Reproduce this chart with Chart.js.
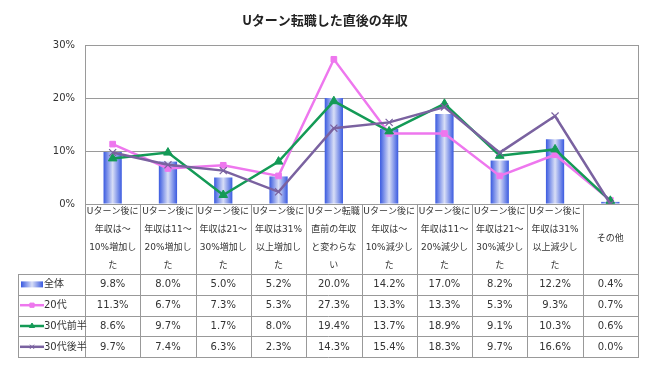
<!DOCTYPE html>
<html>
<head>
<meta charset="utf-8">
<script src="https://cdn.jsdelivr.net/npm/chart.js@4"></script>
<style>
  body { margin: 0; background: #fff; }
  #wrap { width: 650px; height: 365px; }
</style>
</head>
<body>
<div id="wrap"><canvas id="c"></canvas></div>
<script>
// 카테고리 (줄바꿈 단위)
const categories = [
  ['Uターン後に', '年収は～', '10%増加し', 'た'],
  ['Uターン後に', '年収は11～', '20%増加し', 'た'],
  ['Uターン後に', '年収は21～', '30%増加し', 'た'],
  ['Uターン後に', '年収は31%', '以上増加し', 'た'],
  ['Uターン転職', '直前の年収', 'と変わらな', 'い'],
  ['Uターン後に', '年収は～', '10%減少し', 'た'],
  ['Uターン後に', '年収は11～', '20%減少し', 'た'],
  ['Uターン後に', '年収は21～', '30%減少し', 'た'],
  ['Uターン後に', '年収は31%', '以上減少し', 'た'],
  ['その他']
];
const seriesNames = ['全体', '20代', '30代前半', '30代後半'];
const allData = [9.8, 8.0, 5.0, 5.2, 20.0, 14.2, 17.0, 8.2, 12.2, 0.4];
const age20 = [11.3, 6.7, 7.3, 5.3, 27.3, 13.3, 13.3, 5.3, 9.3, 0.7];
const age30early = [8.6, 9.7, 1.7, 8.0, 19.4, 13.7, 18.9, 9.1, 10.3, 0.6];
const age30late = [9.7, 7.4, 6.3, 2.3, 14.3, 15.4, 18.3, 9.7, 16.6, 0.0];
const yTicks = [0, 10, 20, 30];
const title = 'Uターン転職した直後の年収';

const colors = ['#4262e2', '#ee77ee', '#149a56', '#7a62a0'];
const pointStyles = [null, 'rect', 'triangle', 'crossRot'];
const BAR_PCT = 0.33;

function barGradient(ctx, x, w) {
    let g = ctx.createLinearGradient(x - w / 2, 0, x + w / 2, 0);
    g.addColorStop(0, '#3a5ae0');
    g.addColorStop(0.5, '#d8def6');
    g.addColorStop(1, '#3a5ae0');
    return g;
}

// 표 + 제목 그리기
const tablePlugin = {
    id: 'table',
    afterDraw: chart => {
        const ctx = chart.ctx;
        const xs = chart.scales.x;
        const area = chart.chartArea;
        const n = chart.data.labels.length;
        const colW = (area.right - area.left) / n;
        const labelBottom = 274;
        const rowH = 20.8;
        const tableLeft = 18;
        const tableBottom = labelBottom + rowH * 4;
        ctx.save();

        // 제목
        ctx.fillStyle = '#222';
        ctx.font = 'bold 13px "Noto Sans CJK JP", sans-serif';
        ctx.textAlign = 'center';
        ctx.textBaseline = 'middle';
        ctx.fillText(title, 325, 20);

        // 선
        ctx.strokeStyle = '#999';
        ctx.lineWidth = 1;
        ctx.beginPath();
        ctx.moveTo(Math.round(area.right) + 0.5, area.top);
        ctx.lineTo(Math.round(area.right) + 0.5, tableBottom);
        for (let i = 0; i <= n; i++) {
            let x = Math.round(area.left + colW * i) + 0.5;
            ctx.moveTo(x, area.bottom);
            ctx.lineTo(x, tableBottom);
        }
        ctx.moveTo(tableLeft + 0.5, labelBottom);
        ctx.lineTo(tableLeft + 0.5, tableBottom);
        for (let r = 0; r <= 4; r++) {
            let y = Math.round(labelBottom + rowH * r) + 0.5;
            ctx.moveTo(tableLeft, y);
            ctx.lineTo(area.right + 1, y);
        }
        ctx.stroke();

        // 카테고리 라벨
        ctx.fillStyle = '#333';
        ctx.font = '9px "DejaVu Sans", "Noto Sans CJK JP", sans-serif';
        chart.data.labels.forEach((lines, i) => {
            let cx = xs.getPixelForValue(i);
            let mid = (area.bottom + labelBottom) / 2;
            let start = mid - (lines.length - 1) * 18 / 2;
            lines.forEach((t, k) => ctx.fillText(t, cx, start + k * 18));
        });

        // 데이터 행
        ctx.font = '10px "DejaVu Sans", "Noto Sans CJK JP", sans-serif';
        chart.data.datasets.forEach((ds, r) => {
            let cy = labelBottom + rowH * r + rowH / 2;
            ctx.textAlign = 'center';
            ctx.fillStyle = '#333';
            ds.data.forEach((v, i) => {
                ctx.fillText(v.toFixed(1) + '%', xs.getPixelForValue(i), cy + 0.5);
            });
            // 범례 기호
            if (r === 0) {
                ctx.fillStyle = barGradient(ctx, 32, 22);
                ctx.fillRect(21, cy - 3, 22, 6);
            } else {
                ctx.strokeStyle = colors[r];
                ctx.lineWidth = 2.5;
                ctx.beginPath();
                ctx.moveTo(20, cy);
                ctx.lineTo(44, cy);
                ctx.stroke();
                ctx.fillStyle = colors[r];
                ctx.lineWidth = 1;
                Chart.helpers.drawPoint(ctx, { pointStyle: pointStyles[r], radius: 3, borderWidth: 1 }, 32, cy);
            }
            ctx.textAlign = 'left';
            ctx.fillStyle = '#333';
            ctx.fillText(ds.label, 44, cy + 0.5);
        });
        ctx.restore();
    }
};

const ctx = document.getElementById('c').getContext('2d');

const lineSet = (r, data, order) => ({
    type: 'line',
    label: seriesNames[r],
    data: data,
    borderColor: colors[r],
    backgroundColor: colors[r],
    borderWidth: 2.5,
    pointStyle: pointStyles[r],
    pointRadius: r === 1 ? 4 : 5,
    pointBorderWidth: r === 3 ? 1.2 : 1,
    tension: 0,
    order: order
});

new Chart(ctx, {
    type: 'bar',
    plugins: [tablePlugin],
    data: {
        labels: categories,
        datasets: [
            {
                label: seriesNames[0],
                data: allData,
                barPercentage: BAR_PCT,
                categoryPercentage: 1,
                backgroundColor: c => {
                    const chart = c.chart;
                    const xs = chart.scales.x;
                    const area = chart.chartArea;
                    if (!xs || !area || c.dataIndex === undefined) return colors[0];
                    const w = (area.right - area.left) / categories.length * BAR_PCT;
                    return barGradient(chart.ctx, xs.getPixelForValue(c.dataIndex), w);
                },
                order: 4
            },
            lineSet(1, age20, 3),
            lineSet(2, age30early, 2),
            lineSet(3, age30late, 1)
        ]
    },
    options: {
        responsive: true,
        maintainAspectRatio: false,
        animation: false,
        layout: { padding: { top: 45, right: 12, left: 0, bottom: 0 } },
        plugins: {
            legend: { display: false },
            title: { display: false },
            tooltip: { enabled: false }
        },
        scales: {
            x: {
                ticks: { display: false },
                grid: { display: false },
                border: { display: false },
                afterFit: s => { s.height = 161; }
            },
            y: {
                min: 0,
                max: 30,
                afterBuildTicks: s => { s.ticks = yTicks.map(v => ({ value: v })); },
                ticks: {
                    callback: v => v + '%',
                    color: '#333',
                    padding: 10,
                    font: { family: '"DejaVu Sans", sans-serif', size: 10 }
                },
                grid: { color: '#9a9a9a', drawTicks: false },
                border: { color: '#9a9a9a' },
                afterFit: s => { s.width = 85; }
            }
        }
    }
});
</script>
</body>
</html>
